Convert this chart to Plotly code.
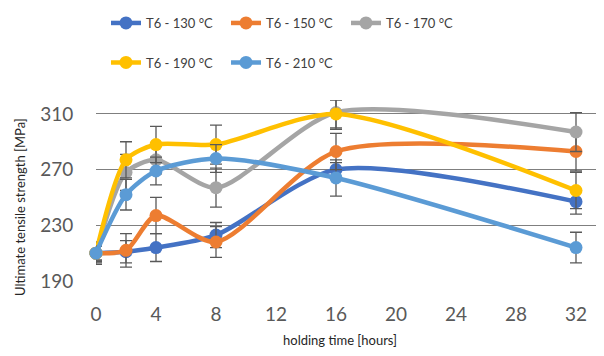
import plotly.graph_objects as go

hours = [0, 2, 4, 8, 16, 32]
uts_130 = [210, 211, 214, 223, 270, 247]
uts_150 = [210, 212, 237, 218, 283, 283]
uts_170 = [210, 268, 277, 257, 311, 297]
uts_190 = [210, 277, 288, 288, 310, 255]
uts_210 = [210, 252, 269, 278, 264, 214]

err_130 = [6, 8, 10, 9, 5, 9]
err_150 = [5, 12, 13, 11, 13, 14]
err_170 = [7, 13, 10, 14, 12, 14]
err_190 = [8, 13, 13, 14, 10, 13]
err_210 = [5, 11, 10, 10, 13, 11]

series_names = ["T6 - 130 °C", "T6 - 150 °C", "T6 - 170 °C", "T6 - 190 °C", "T6 - 210 °C"]
y_ticks = [190, 230, 270, 310]
x_ticks = [0, 4, 8, 12, 16, 20, 24, 28, 32]

series = [uts_130, uts_150, uts_170, uts_190, uts_210]
errors = [err_130, err_150, err_170, err_190, err_210]
colors = ["#4472C4", "#ED7D31", "#A5A5A5", "#FFC000", "#5B9BD5"]
legend_ids = ["legend", "legend2", "legend3", "legend4", "legend5"]
legend_x = [0.1644, 0.3658, 0.5671, 0.1644, 0.3658]
legend_y = [1.0, 1.0, 1.0, 0.8865, 0.8865]

FONT = "Lato, 'Open Sans', sans-serif"

fig = go.Figure()
for name, ys, es, col, lg in zip(series_names, series, errors, colors, legend_ids):
    fig.add_trace(go.Scatter(
        x=hours, y=ys, name=name, mode="lines+markers",
        line=dict(color=col, width=4.5, shape="spline", smoothing=0.75),
        marker=dict(color=col, size=13),
        error_y=dict(type="data", array=es, visible=True, color="#595959",
                     thickness=1.3, width=6),
        cliponaxis=False,
        legend=lg,
    ))

W, H = 596, 348  # page body adds an 8px offset

legend_layout = {}
for lg, lx, ly in zip(legend_ids, legend_x, legend_y):
    legend_layout[lg] = dict(orientation="h", x=lx, y=ly, xref="container", yref="container",
                             xanchor="left", yanchor="top",
                             font=dict(size=13, color="#404040", family=FONT),
                             bgcolor="rgba(0,0,0,0)")

fig.update_layout(
    width=W, height=H,
    margin=dict(l=88, r=4, t=92, b=75, autoexpand=False),
    paper_bgcolor="white", plot_bgcolor="white",
    font=dict(family=FONT, color="#404040"),
    showlegend=True,
    xaxis=dict(range=[0, 33.6], tickvals=x_ticks, showgrid=False, zeroline=False,
               showline=False, ticks="outside", ticklen=16, tickcolor="rgba(0,0,0,0)",
               tickfont=dict(size=19, color="#595959", family=FONT)),
    yaxis=dict(range=[190, 320], tickvals=y_ticks, showgrid=True, gridcolor="#7F7F7F",
               gridwidth=1, zeroline=False, showline=False, ticks="outside", ticklen=18,
               tickcolor="rgba(0,0,0,0)",
               tickfont=dict(size=19, color="#595959", family=FONT)),
    annotations=[
        dict(text="holding time [hours]", xref="paper", yref="paper",
             x=(340 - 96) / 504, y=-(340 - 281) / 181, xanchor="center", yanchor="middle",
             showarrow=False, font=dict(size=13, color="#262626", family=FONT)),
        dict(text="Ultimate tensile strength [MPa]", xref="paper", yref="paper",
             x=-(96 - 20) / 504, y=(281 - 207) / 181, xanchor="center", yanchor="middle",
             showarrow=False, textangle=-90, font=dict(size=13, color="#262626", family=FONT)),
    ],
    **legend_layout,
)

fig.write_html("out.html")
